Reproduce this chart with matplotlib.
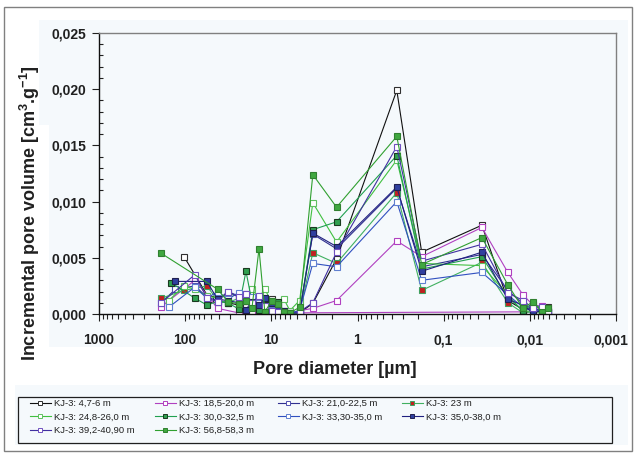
import matplotlib
matplotlib.use('Agg')
import matplotlib.pyplot as plt
from matplotlib.patches import Rectangle
from matplotlib.lines import Line2D
from matplotlib.transforms import blended_transform_factory, ScaledTranslation
from matplotlib.ticker import LogLocator, MultipleLocator, FuncFormatter, NullFormatter

# ---------------- data (pore diameter [um], incremental volume [cm3/g]) ----------------
labels = ["KJ-3: 4,7-6 m", "KJ-3: 18,5-20,0 m", "KJ-3: 21,0-22,5 m", "KJ-3: 23 m",
          "KJ-3: 24,8-26,0 m", "KJ-3: 30,0-32,5 m", "KJ-3: 33,30-35,0 m", "KJ-3: 35,0-38,0 m",
          "KJ-3: 39,2-40,90 m", "KJ-3: 56,8-58,3 m"]

d1 = [103, 52, 42, 32, 24, 19.7, 16.8, 13.9, 11.9, 9.8, 8.4, 7.1, 6.1, 4.7, 3.3, 1.75, 0.35, 0.18, 0.036, 0.018, 0.012, 0.0092, 0.0073, 0.0061]
v1 = [0.0051, 0.0013, 0.0012, 0.0010, 0.0008, 0.0006, 0.0004, 0.0009, 0.0012, 0.0013, 0.0008, 0.0003, 0.0001, 0.0001, 0.00095, 0.0049, 0.0199, 0.0055, 0.0079, 0.0012, 0.0004, 0.0005, 0.0003, 0.0006]

d2 = [190, 77, 42, 24, 19.7, 16.8, 13.9, 11.9, 9.8, 8.4, 7.1, 6.1, 4.7, 3.3, 1.75, 0.35, 0.18, 0.036, 0.018, 0.012, 0.0092, 0.0073, 0.0061, 7.0]
v2 = [0.00065, 0.0030, 0.0005, 0.0001, 0.0003, 0.0002, 0.0005, 0.0004, 0.0002, 0.0001, 0.0001, 0.0000, 0.0003, 0.0005, 0.0012, 0.0065, 0.0051, 0.0077, 0.0037, 0.0017, 0.0008, 0.0007, 0.0002, 0.0001]

d3 = [190, 130, 77, 56, 42, 32, 24, 19.7, 16.8, 13.9, 11.9, 9.8, 8.4, 7.1, 6.1, 4.7, 3.3, 1.75, 0.35, 0.18, 0.036, 0.018, 0.012, 0.0092, 0.0073, 0.0061]
v3 = [0.0010, 0.0022, 0.0025, 0.0015, 0.0012, 0.0020, 0.0016, 0.0018, 0.0012, 0.0008, 0.0010, 0.0006, 0.0003, 0.0002, 0.0001, 0.0002, 0.0071, 0.0058, 0.0112, 0.0042, 0.0053, 0.0021, 0.0009, 0.0004, 0.0003, 0.0002]

d4 = [190, 103, 56, 42, 32, 24, 19.7, 16.8, 13.9, 11.9, 9.8, 8.4, 7.1, 6.1, 4.7, 3.3, 1.75, 0.35, 0.18, 0.036, 0.018, 0.012, 0.0092, 0.0073, 0.0061]
v4 = [0.0014, 0.0021, 0.0025, 0.0012, 0.0010, 0.0014, 0.0012, 0.0010, 0.0006, 0.0009, 0.0004, 0.0002, 0.0001, 0.0000, 0.0001, 0.00545, 0.0045, 0.0108, 0.0021, 0.0046, 0.0010, 0.0001, 0.0002, 0.0002, 0.0003]

d5 = [155, 103, 77, 56, 42, 32, 24, 19.7, 16.8, 13.9, 11.9, 9.8, 8.4, 7.1, 6.1, 4.7, 3.3, 1.75, 0.35, 0.18, 0.036, 0.018, 0.012, 0.0092, 0.0073, 0.0061]
v5 = [0.0012, 0.0025, 0.0022, 0.0016, 0.0014, 0.0018, 0.0016, 0.0013, 0.0022, 0.0015, 0.0022, 0.0010, 0.0009, 0.0013, 0.0003, 0.0012, 0.0099, 0.0064, 0.0137, 0.0045, 0.0043, 0.0017, 0.0002, 0.0003, 0.0001, 0.0002]

d6 = [146, 77, 56, 42, 32, 24, 19.7, 16.8, 13.9, 11.9, 9.8, 8.4, 7.1, 6.1, 4.7, 3.3, 1.75, 0.35, 0.18, 0.036, 0.018, 0.012, 0.0092, 0.0073, 0.0061]
v6 = [0.0028, 0.0014, 0.0008, 0.0011, 0.0010, 0.00045, 0.0038, 0.0011, 0.0004, 0.0013, 0.0012, 0.0011, 0.0002, 0.0001, 0.0001, 0.0075, 0.0082, 0.0141, 0.0040, 0.0051, 0.0015, 0.0003, 0.0009, 0.0005, 0.0003]

d7 = [155, 77, 56, 42, 32, 24, 19.7, 16.8, 13.9, 11.9, 9.8, 8.4, 7.1, 6.1, 4.7, 3.3, 1.75, 0.35, 0.18, 0.036, 0.018, 0.012, 0.0092, 0.0073, 0.0061]
v7 = [0.0006, 0.0024, 0.0014, 0.0020, 0.0013, 0.0019, 0.0017, 0.0015, 0.0010, 0.0006, 0.0004, 0.0002, 0.0001, 0.0001, 0.0003, 0.0045, 0.0042, 0.0100, 0.0030, 0.0037, 0.0017, 0.0006, 0.0003, 0.0004, 0.0002]

d8 = [131, 56, 42, 32, 24, 19.7, 16.8, 13.9, 11.9, 9.8, 8.4, 7.1, 6.1, 4.7, 3.3, 1.75, 0.35, 0.18, 0.036, 0.018, 0.012, 0.0092, 0.0073, 0.0061]
v8 = [0.0029, 0.0029, 0.0013, 0.0012, 0.0010, 0.0004, 0.0011, 0.0008, 0.0014, 0.0010, 0.0006, 0.0003, 0.0001, 0.0001, 0.0072, 0.0060, 0.0113, 0.0038, 0.0055, 0.0013, 0.0008, 0.0001, 0.0003, 0.0002]

d9 = [190, 77, 56, 42, 32, 24, 19.7, 16.8, 13.9, 11.9, 9.8, 8.4, 7.1, 6.1, 4.7, 3.3, 1.75, 0.35, 0.18, 0.036, 0.018, 0.012, 0.0092, 0.0073, 0.0061]
v9 = [0.0010, 0.0035, 0.0014, 0.0011, 0.0020, 0.0015, 0.0018, 0.0010, 0.0016, 0.0007, 0.0003, 0.0002, 0.0001, 0.0000, 0.0002, 0.0010, 0.0055, 0.0149, 0.0047, 0.0062, 0.0019, 0.0012, 0.0005, 0.0006, 0.0002]

d10 = [190, 42, 32, 24, 19.7, 16.8, 13.9, 11.9, 9.8, 8.4, 7.1, 6.1, 4.7, 3.3, 1.75, 0.35, 0.18, 0.036, 0.018, 0.012, 0.0092, 0.0073, 0.0061]
v10 = [0.0054, 0.0022, 0.0011, 0.0009, 0.0012, 0.0005, 0.0058, 0.0002, 0.0012, 0.0009, 0.0002, 0.0001, 0.0006, 0.0124, 0.0095, 0.0158, 0.0044, 0.0068, 0.0026, 0.0005, 0.0011, 0.0002, 0.0005]

diams = [d1, d2, d3, d4, d5, d6, d7, d8, d9, d10]
vols = [v1, v2, v3, v4, v5, v6, v7, v8, v9, v10]

x_ticks = [1000, 100, 10, 1, 0.1, 0.01, 0.001]
x_ticklabels = ["1000", "100", "10", "1", "0,1", "0,01", "0,001"]

# style: (line colour, marker face, marker edge)
styles = [
    ('#101010', 'white', '#303030'),
    ('#b040c0', 'white', '#b040c0'),
    ('#303090', 'white', '#5050b0'),
    ('#40b060', '#c02020', '#40a060'),
    ('#40c040', 'white', '#60c060'),
    ('#20a050', '#30a050', '#1a3a20'),
    ('#3050c0', 'white', '#6080d0'),
    ('#202080', '#3040a0', '#202050'),
    ('#4030a0', 'white', '#7050c0'),
    ('#30a030', '#40a840', '#308030'),
]

# ---------------- figure ----------------
plt.rcParams['font.family'] = ['Liberation Sans', 'DejaVu Sans']
plt.rcParams['font.weight'] = 'bold'
plt.rcParams['mathtext.fontset'] = 'custom'
plt.rcParams['mathtext.rm'] = 'Liberation Sans:bold'
plt.rcParams['mathtext.bf'] = 'Liberation Sans:bold'
plt.rcParams['mathtext.default'] = 'bf'

W, H = 635, 454
fig = plt.figure(figsize=(W / 100, H / 100), dpi=100, facecolor='white')
PANEL = '#f5f9fc'


def frect(x0, y0, x1, y1, **kw):
    r = Rectangle((x0 / W, 1 - y1 / H), (x1 - x0) / W, (y1 - y0) / H,
                  transform=fig.transFigure, **kw)
    fig.add_artist(r)
    return r


frect(4, 7, 632, 451, facecolor='white', edgecolor='#808080', lw=1.0, zorder=-3)
frect(39, 20, 628, 125, facecolor=PANEL, edgecolor='none', zorder=-2)
frect(49, 125, 628, 347, facecolor=PANEL, edgecolor='none', zorder=-2)
frect(15, 385, 628, 445, facecolor=PANEL, edgecolor='none', zorder=-2)

ax = fig.add_axes([99 / W, 1 - 314 / H, (616 - 99) / W, (314 - 33) / H])
ax.set_facecolor(PANEL)

for d, v, (lc, mf, me) in zip(diams, vols, styles):
    ax.plot(d, v, '-', color=lc, lw=0.8, marker='s', markersize=4.5,
            markerfacecolor=mf, markeredgecolor=me, markeredgewidth=0.8)

ax.set_xscale('log')
ax.set_xlim(1000, 0.001)
ax.set_ylim(0, 0.025)

ax.set_xticks(x_ticks)
# last label placed manually (slightly inside the figure edge)
ax.set_xticklabels(x_ticklabels[:-1] + [""])
ax.xaxis.set_minor_locator(LogLocator(base=10, subs=range(2, 10), numticks=100))
ax.xaxis.set_minor_formatter(NullFormatter())
ax.yaxis.set_major_locator(MultipleLocator(0.005))
ax.yaxis.set_minor_locator(MultipleLocator(0.001))
ax.yaxis.set_major_formatter(FuncFormatter(lambda v, p: f"{v:.3f}".replace('.', ',')))

ax.tick_params(axis='y', which='major', direction='out', length=5, width=0.8,
               labelsize=10, pad=4, color='#202020', labelcolor='#202020')
ax.tick_params(axis='y', which='minor', direction='in', length=3, width=0.8, color='#202020')
ax.tick_params(axis='x', which='major', direction='out', length=5, width=0.8,
               labelsize=10, pad=9, color='#202020', labelcolor='#202020')
ax.tick_params(axis='x', which='minor', direction='out', length=3.5, width=0.8, color='#202020')

trans = blended_transform_factory(ax.transData, ax.transAxes) + \
    ScaledTranslation(-5 / 100, 0, fig.dpi_scale_trans)
ax.text(x_ticks[-1], 0, x_ticklabels[-1], transform=trans, ha='center', va='top',
        fontsize=10, fontweight='bold', color='#202020')
# match vertical position of tick labels: offset down by tick length + pad
ax.texts[-1].set_transform(trans + ScaledTranslation(0, -(5 + 9) / 72, fig.dpi_scale_trans))

for s in ('left', 'bottom'):
    ax.spines[s].set_color('#101010')
    ax.spines[s].set_linewidth(1.0)
for s in ('top', 'right'):
    ax.spines[s].set_color('#808080')
    ax.spines[s].set_linewidth(1.0)

fig.text(30 / W, 1 - 213 / H, 'Incremental pore volume [cm$^{3}$.g$^{-1}$]',
         rotation=90, ha='center', va='center', fontsize=13, fontweight='bold', color='#202020')
fig.text(335 / W, 1 - 370 / H, 'Pore diameter [µm]', ha='center', va='center',
         fontsize=13, fontweight='bold', color='#202020')

# ---------------- legend ----------------
frect(18, 397, 612, 443, facecolor=PANEL, edgecolor='#202020', lw=0.9, zorder=-1)

handles = [Line2D([], [], color=lc, lw=0.8, marker='s', markersize=3.5,
                  markerfacecolor=mf, markeredgecolor=me, markeredgewidth=0.7)
           for (lc, mf, me) in styles]
cols = [[0, 4, 8], [1, 5, 9], [2, 6], [3, 7]]
col_x = [30, 155, 278, 402]
for xs, idx in zip(col_x, cols):
    fig.legend([handles[i] for i in idx], [labels[i] for i in idx],
               loc='upper left', bbox_to_anchor=(xs / W, 1 - 399 / H),
               frameon=False, borderaxespad=0, borderpad=0,
               prop={'size': 6.8, 'weight': 'normal'},
               handlelength=2.2, handletextpad=0.35, labelspacing=0.48,
               labelcolor='#202020')

fig.savefig('out.png', dpi=100, facecolor='white')
